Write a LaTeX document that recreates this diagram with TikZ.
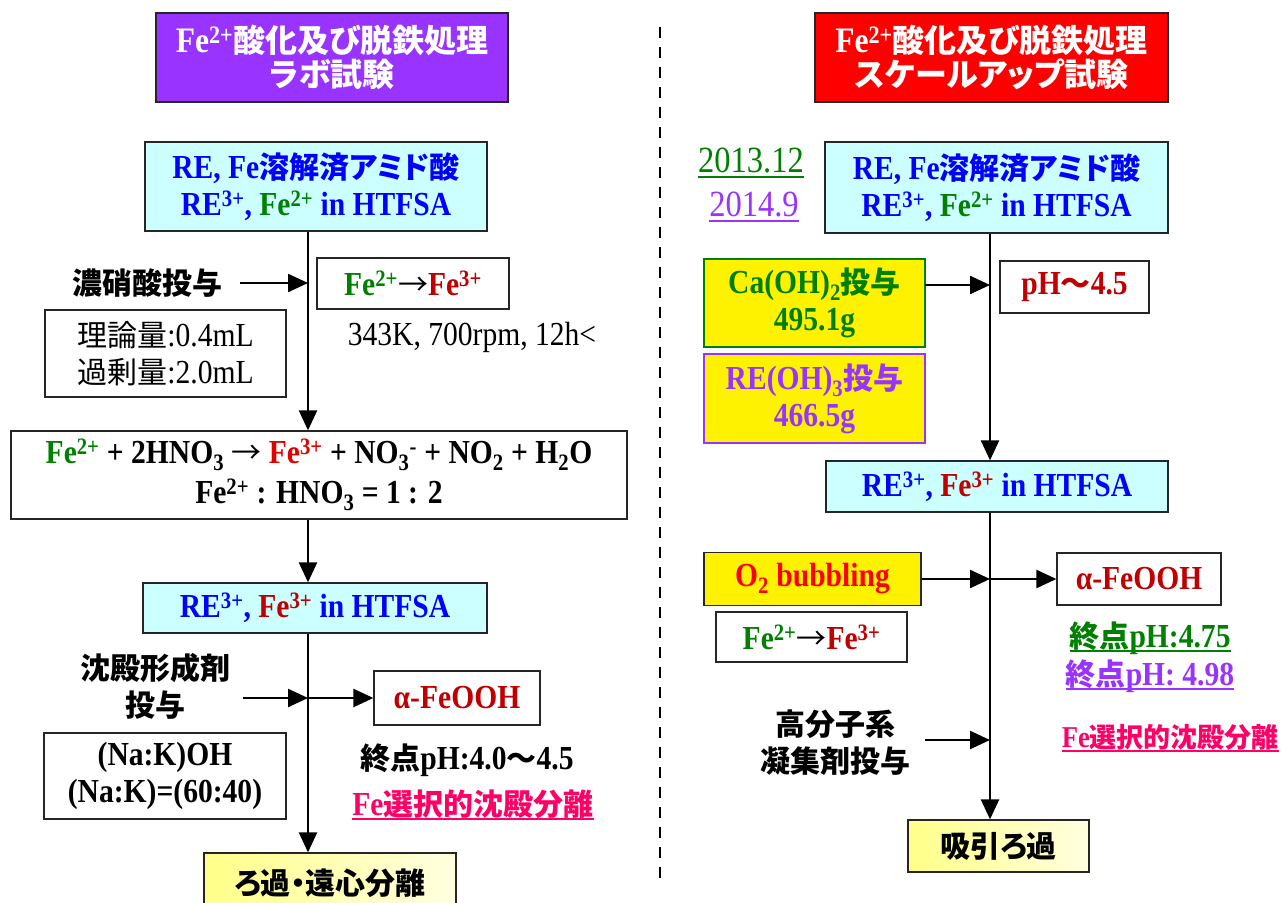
\documentclass[tikz,border=0pt]{standalone}
\usepackage{fontspec}
\setmainfont{Liberation Serif}[Scale=1.12,FakeStretch=0.88]
\newfontfamily\jp{Noto Sans CJK JP}[RawFeature=+palt]
\newfontfamily\jpm{Noto Sans CJK JP}
\usetikzlibrary{arrows.meta}
\definecolor{cpurple}{HTML}{9933FF}
\definecolor{ccyan}{HTML}{CCFFFF}
\definecolor{cgreen}{HTML}{008000}
\definecolor{cdred}{HTML}{C00000}
\definecolor{cred}{HTML}{E00000}
\definecolor{cblue}{HTML}{0000FF}
\definecolor{cmag}{HTML}{FF0066}
\definecolor{yelA}{HTML}{FFFF88}
\definecolor{yelB}{HTML}{FFFFE0}
\newcommand{\J}[1]{{\jp #1}}
\newcommand{\up}[1]{\textsuperscript{#1}}
\newcommand{\dn}[1]{\textsubscript{#1}}
\newcommand{\ra}{{\jpm\mdseries →}}
\newcommand{\myul}[1]{\setbox0\hbox{#1}\rlap{\rule[-5pt]{\wd0}{2pt}}\box0}
\begin{document}
\begin{tikzpicture}[x=1pt,y=-1pt,
  txt/.style={align=center,inner sep=0pt,font=\bfseries\fontsize{30}{37}\selectfont},
  box/.style={txt,draw=black!85,line width=1.3pt},
  cbox/.style={box,fill=ccyan},
  ybox/.style={box,left color=yelA,right color=yelB},
  arr/.style={line width=2.4pt,-{Triangle[length=20pt,width=18pt]}},
  dashline/.style={line width=2pt,dash pattern=on 11pt off 9pt}]
\fill[white] (0,0) rectangle (1281,902);
\useasboundingbox (0,0) rectangle (1281,902);
% ---------- left ----------
\node[box,fill=cpurple,text=white,minimum width=352pt,minimum height=89pt,
  font=\bfseries\fontsize{32}{34}\selectfont] (tL) at (332,57.5)
  {Fe\up{2+}\J{酸化及び脱鉄処理}\\\J{ラボ試験}};
\node[cbox,text=cblue,minimum width=342pt,minimum height=89pt] (c1L) at (316,186.5)
  {RE, Fe\J{溶解済アミド酸}\\RE\up{3+}, {\color{cgreen}Fe\up{2+}} in HTFSA};
\node[txt] (nit) at (147,283) {\J{濃硝酸投与}};
\node[box,minimum width=192pt,minimum height=51pt] (f23L) at (413,283.5)
  {{\color{cgreen}Fe\up{2+}}\ra{\color{cdred}Fe\up{3+}}};
\node[txt,font=\mdseries\fontsize{30}{37}\selectfont] (cond) at (472,337) {343K, 700rpm, 12h<};
\node[box,font=\mdseries\fontsize{30}{37}\selectfont,minimum width=241pt,minimum height=87pt] (amt) at (165.5,353.5)
  {\J{理論量}:0.4mL\\\J{過剰量}:2.0mL};
\node[box,font=\bfseries\fontsize{30}{40}\selectfont,minimum width=616pt,minimum height=88pt] (eq) at (319,475)
  {{\color{cgreen}Fe\up{2+}} + 2HNO\dn{3} \ra\ {\color{cred}Fe\up{3+}} + NO\dn{3}\up{-} + NO\dn{2} + H\dn{2}O\\Fe\up{2+} : HNO\dn{3} = 1 : 2};
\node[cbox,text=cblue,minimum width=344pt,minimum height=50pt] (c2L) at (315,608)
  {RE\up{3+}, {\color{cdred}Fe\up{3+}} in HTFSA};
\node[txt] (prec) at (155,686) {\J{沈殿形成剤}\\\J{投与}};
\node[box,text=cdred,minimum width=166pt,minimum height=54pt] (fooL) at (457,698) {α-FeOOH};
\node[box,minimum width=242pt,minimum height=86pt] (nak) at (165,776) {(Na:K)OH\\(Na:K)=(60:40)};
\node[txt] (epL) at (467,760) {\J{終点}pH:4.0\J{〜}4.5};
\node[txt,text=cmag] (selL) at (473,805) {\myul{Fe\J{選択的沈殿分離}}};
\node[ybox,minimum width=252pt,minimum height=60pt] (filt) at (330,883) {\J{ろ過・遠心分離}};
\coordinate (LX) at (308,0);
\draw[arr] (c1L.south -| LX) -- (eq.north -| LX);
\coordinate (n1) at (240,283);
\draw[arr] (n1) -- (n1 -| LX);
\draw[arr] (eq.south -| LX) -- (c2L.north -| LX);
\draw[arr] (c2L.south -| LX) -- (filt.north -| LX);
\coordinate (p1) at (243,698);
\coordinate (pj) at (308,698);
\draw[arr] (p1) -- (pj);
\draw[arr] (pj) -- (fooL.west);
% ---------- divider ----------
\coordinate (d1) at (660,27);
\coordinate (d2) at (660,885);
\draw[dashline] (d1) -- (d2);
% ---------- right ----------
\node[box,fill=red,text=white,minimum width=353pt,minimum height=89pt,
  font=\bfseries\fontsize{32}{34}\selectfont] (tR) at (991.5,57.5)
  {Fe\up{2+}\J{酸化及び脱鉄処理}\\\J{スケールアップ試験}};
\node[txt,font=\mdseries\fontsize{33}{37}\selectfont,text=cgreen] (dt1) at (751,163) {\myul{2013.12}};
\node[txt,font=\mdseries\fontsize{33}{37}\selectfont,text=cpurple] (dt2) at (754,207) {\myul{2014.9}};
\node[cbox,text=cblue,minimum width=343pt,minimum height=91pt] (c1R) at (996.5,187.5)
  {RE, Fe\J{溶解済アミド酸}\\RE\up{3+}, {\color{cgreen}Fe\up{2+}} in HTFSA};
\node[box,draw=cgreen,fill=yellow,text=cgreen,minimum width=221pt,minimum height=88pt] (ca) at (814.5,303)
  {Ca(OH)\dn{2}\J{投与}\\495.1g};
\node[box,text=cdred,minimum width=149pt,minimum height=52pt] (ph) at (1074.5,287) {pH\J{〜}4.5};
\node[box,draw=cpurple,fill=yellow,text=cpurple,minimum width=221pt,minimum height=89pt] (reo) at (814.5,398.5)
  {RE(OH)\dn{3}\J{投与}\\466.5g};
\node[cbox,text=cblue,minimum width=342pt,minimum height=51pt] (c2R) at (997,486.5)
  {RE\up{3+}, {\color{cdred}Fe\up{3+}} in HTFSA};
\node[box,fill=yellow,text=red,minimum width=217pt,minimum height=53pt] (o2) at (812.5,579)
  {O\dn{2} bubbling};
\node[box,text=cdred,minimum width=164pt,minimum height=52pt] (fooR) at (1139,579) {α-FeOOH};
\node[box,minimum width=191pt,minimum height=50pt] (f23R) at (811.5,637)
  {{\color{cgreen}Fe\up{2+}}\ra{\color{cdred}Fe\up{3+}}};
\node[txt,text=cgreen] (ep1) at (1150,638) {\myul{\J{終点}pH:4.75}};
\node[txt,text=cpurple] (ep2) at (1150,676) {\myul{\J{終点}pH: 4.98}};
\node[txt] (floc) at (835,743) {\J{高分子系}\\\J{凝集剤投与}};
\node[txt,text=cmag,anchor=east,font=\bfseries\fontsize{27}{37}\selectfont] (selR) at (1279,738) {\myul{Fe\J{選択的沈殿分離}}};
\node[ybox,minimum width=181pt,minimum height=52pt] (suc) at (998.5,846) {\J{吸引ろ過}};
\coordinate (RX) at (990,0);
\draw[arr] (c1R.south -| RX) -- (c2R.north -| RX);
\coordinate (ca1) at (925,285);
\draw[arr] (ca1) -- (ca1 -| RX);
\draw[arr] (c2R.south -| RX) -- (suc.north -| RX);
\draw[arr] (o2.east) -- (o2.east -| RX);
\draw[arr] (o2.east -| RX) -- (fooR.west);
\coordinate (fl) at (925,740);
\draw[arr] (fl) -- (fl -| RX);
\end{tikzpicture}
\end{document}
